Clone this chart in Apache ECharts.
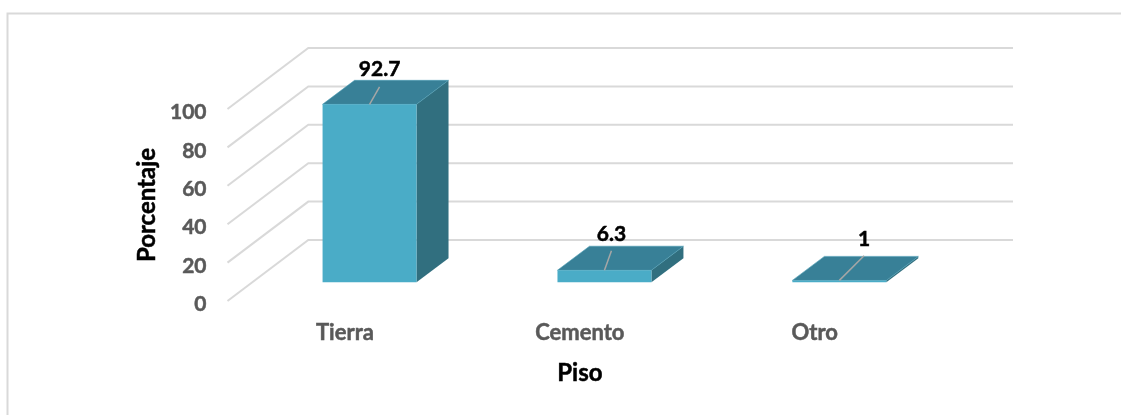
<!DOCTYPE html>
<html>
<head>
<meta charset="utf-8">
<style>html,body{margin:0;padding:0;background:#fff}#c{width:1121px;height:415px}</style>
<script src="https://cdn.jsdelivr.net/npm/echarts@6/dist/echarts.min.js"></script>
</head>
<body>
<div id="c"></div>
<script>
const categories = ['Tierra', 'Cemento', 'Otro'];
const values = [92.7, 6.3, 1];
const valueLabels = ['92.7', '6.3', '1'];
const yTicks = [0, 20, 40, 60, 80, 100];

// 3D projection (pixels)
const WALL_DX = 80.8, WALL_DY = -61;
const BAR_OFF_X = 24.6, BAR_OFF_Y = -18.7;
const BAR_DX = 32, BAR_DY = -24;
const WALL_RIGHT = 1013;
const LEADERS = [[10, -17.5], [7, -19.5], [24.7, -24.7]];
const TICK_LABEL_GAP = 21, TICK_LABEL_DY = 3.5;
const FONT = 'Lato, "Open Sans", sans-serif';

const chart = echarts.init(document.getElementById('c'), null, {renderer: 'canvas'});

function renderWall(params, api) {
  const v = api.value(0);
  const p = api.coord([0, v]);
  const x0 = params.coordSys.x;
  return {
    type: 'group',
    children: [
      {type: 'polyline', silent: true,
        shape: {points: [[x0, p[1]], [x0 + WALL_DX, p[1] + WALL_DY], [WALL_RIGHT, p[1] + WALL_DY]]},
        style: {stroke: '#d9d9d9', lineWidth: 2, fill: null}},
      {type: 'text', style: {x: x0 - TICK_LABEL_GAP, y: p[1] + TICK_LABEL_DY, text: String(v),
        font: 'bold 21px ' + FONT, fill: '#595959', align: 'right', verticalAlign: 'middle',
        stroke: '#595959', lineWidth: 0.5}}
    ]
  };
}

function renderBar(params, api) {
  const i = api.value(0);
  const top = api.coord([i, api.value(1)]);
  const base = api.coord([i, 0]);
  const w = api.size([1, 0])[0] * 0.4;
  const xl = top[0] - w / 2 + BAR_OFF_X, xr = xl + w;
  const yt = top[1] + BAR_OFF_Y, yb = base[1] + BAR_OFF_Y;
  const mx = (xl + xr) / 2;
  const lead = LEADERS[i];
  return {
    type: 'group',
    children: [
      {type: 'polygon', shape: {points: [[xr, yt], [xr + BAR_DX, yt + BAR_DY], [xr + BAR_DX, yb + BAR_DY], [xr, yb]]},
        style: {fill: '#316f7f'}},
      {type: 'polygon', shape: {points: [[xl, yt], [xl + BAR_DX, yt + BAR_DY], [xr + BAR_DX, yt + BAR_DY], [xr, yt]]},
        style: {fill: '#388097', stroke: '#4a9cb3', lineWidth: 0.6}},
      {type: 'rect', shape: {x: xl, y: yt, width: w, height: yb - yt},
        style: {fill: '#4aacc7'}},
      {type: 'line', shape: {x1: mx, y1: yt, x2: mx + lead[0], y2: yt + lead[1]},
        style: {stroke: '#a6a6a6', lineWidth: 1.5}},
      {type: 'text', style: {x: mx + lead[0], y: yt + lead[1] - (i === 0 ? 7 : 6), text: valueLabels[i],
        font: 'bold 21px ' + FONT, fill: '#000', align: 'center', verticalAlign: 'bottom',
        stroke: '#000', lineWidth: 0.5}}
    ]
  };
}

chart.setOption({
  animation: false,
  backgroundColor: '#fff',
  grid: {left: 227.5, right: 1121 - 932.2, top: 109, bottom: 415 - 301},
  xAxis: {
    type: 'category', data: categories,
    axisLine: {show: false}, axisTick: {show: false}, splitLine: {show: false},
    axisLabel: {color: '#595959', fontFamily: FONT, fontWeight: 'bold', fontSize: 22, margin: 21,
      textBorderColor: '#595959', textBorderWidth: 0.5},
    name: 'Piso', nameLocation: 'middle', nameGap: 60,
    nameTextStyle: {color: '#000', fontFamily: FONT, fontWeight: 'bold', fontSize: 24,
      textBorderColor: '#000', textBorderWidth: 0.5}
  },
  yAxis: {
    type: 'value', min: 0, max: 100, interval: 20,
    axisLine: {show: false}, axisTick: {show: false}, splitLine: {show: false},
    axisLabel: {show: false},
    name: 'Porcentaje', nameLocation: 'middle', nameGap: 68,
    nameTextStyle: {color: '#000', fontFamily: FONT, fontWeight: 'bold', fontSize: 24,
      textBorderColor: '#000', textBorderWidth: 0.5}
  },
  graphic: [
    {type: 'polyline', silent: true, shape: {points: [[7.5, 415], [7.5, 13.5], [1121, 13.5]]},
      style: {stroke: '#d9d9d9', lineWidth: 2, fill: null}}
  ],
  series: [
    {type: 'custom', renderItem: renderWall, data: yTicks.map(v => [v]), encode: {y: 0}, clip: false, silent: true, z: 1},
    {type: 'custom', renderItem: renderBar, data: values.map((v, i) => [i, v]), encode: {x: 0, y: 1}, clip: false, silent: true, z: 2}
  ]
});
</script>
</body>
</html>
